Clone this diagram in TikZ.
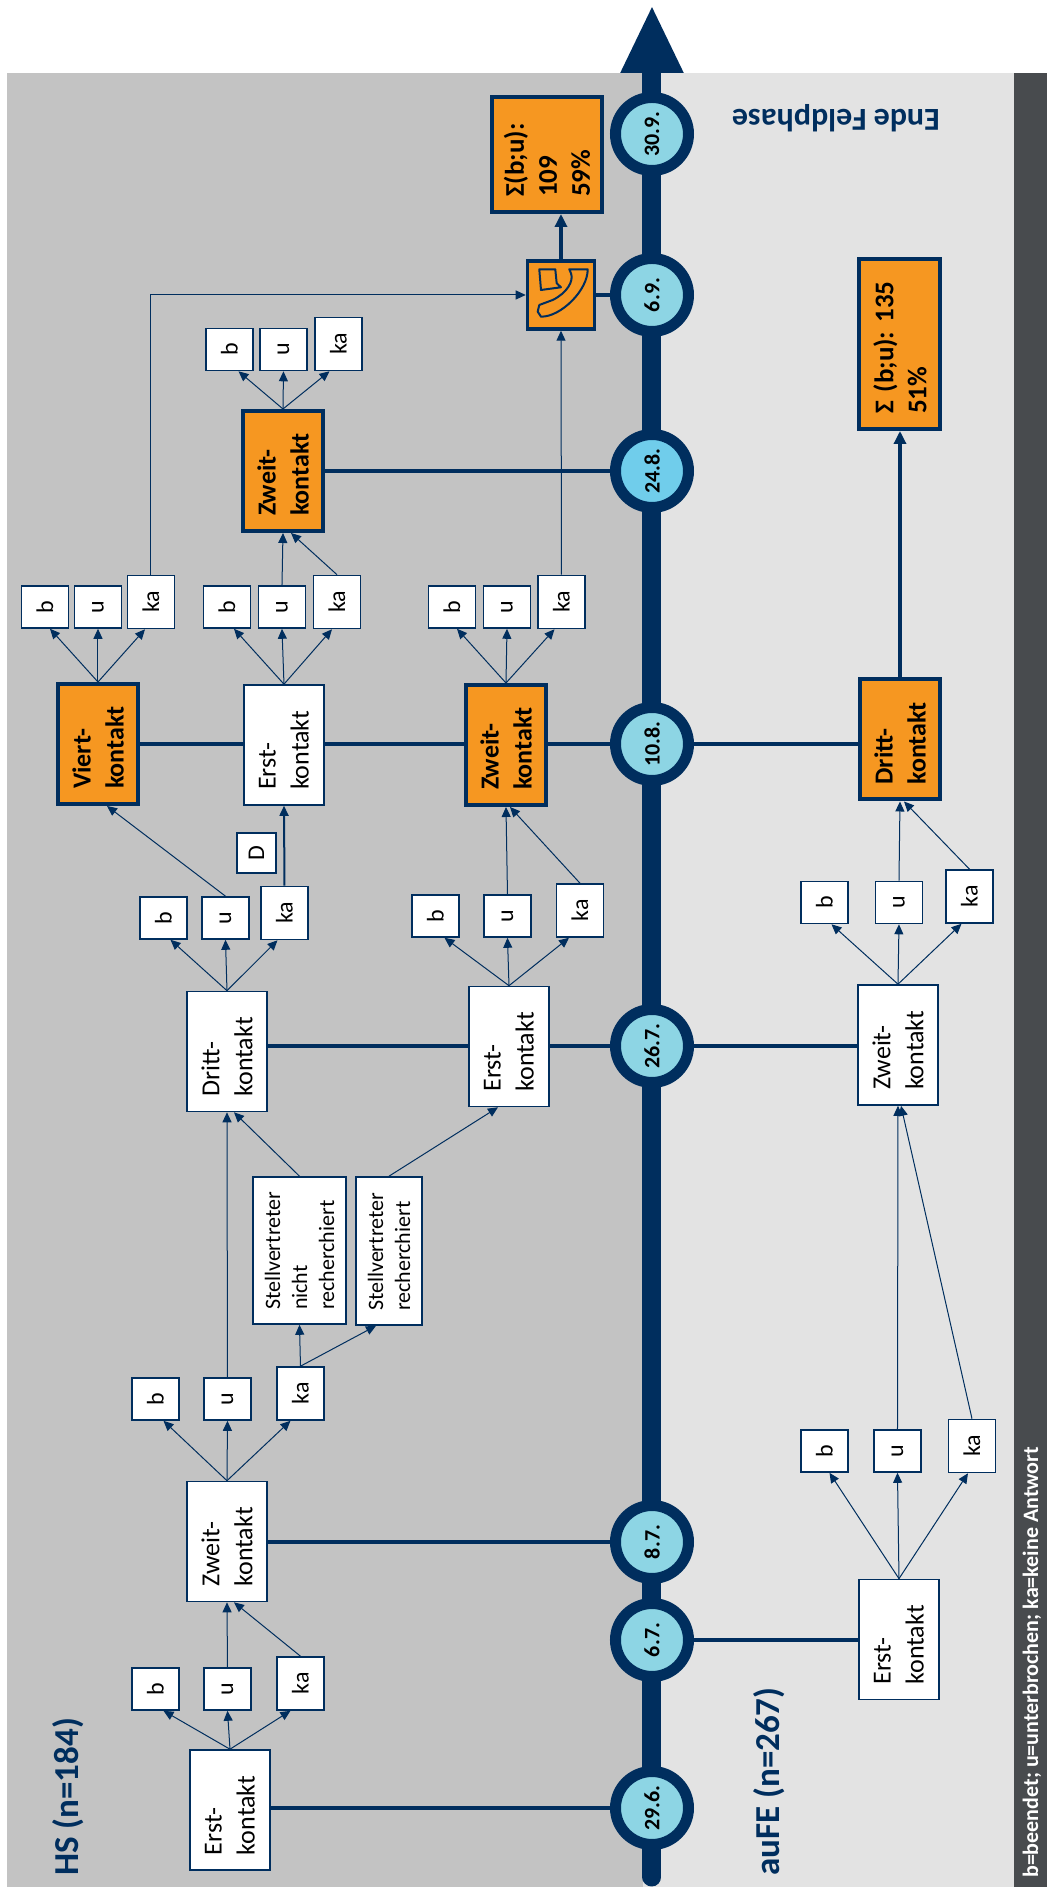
\documentclass[tikz,border=0pt]{standalone}
\usepackage{fontspec}
\setmainfont{Carlito}
\usepackage{xcolor}
\usepackage{tikz}
\usetikzlibrary{positioning,calc,arrows.meta}

\definecolor{navy}{RGB}{0,46,94}
\definecolor{boxorange}{RGB}{246,151,33}
\definecolor{hsgray}{RGB}{195,195,195}
\definecolor{aufegray}{RGB}{227,227,227}
\definecolor{legendgray}{RGB}{72,75,78}
\definecolor{datecyan}{RGB}{141,213,228}
\definecolor{datecyanB}{RGB}{112,205,235}

\begin{document}
\frenchspacing
\begin{tikzpicture}[x=1pt,y=1pt,rotate=90,transform shape,
  kbox/.style={draw=navy,line width=1.6pt,fill=white,text width=90pt,inner xsep=15pt,inner ysep=0pt,
    minimum width=120pt,minimum height=80pt,align=left,font=\fontsize{26}{33}\selectfont},
  obox/.style={kbox,fill=boxorange,line width=4pt,font=\bfseries\fontsize{26}{33}\selectfont},
  sbox/.style={draw=navy,line width=1.6pt,fill=white,inner sep=0pt,minimum width=42pt,minimum height=47pt,
    font=\fontsize{24}{28}\selectfont},
  kabox/.style={sbox,minimum width=53pt},
  stvbox/.style={draw=navy,line width=1.6pt,fill=white,inner xsep=14pt,inner ysep=0pt,align=left,
    font=\fontsize{22}{27}\selectfont},
  sumbox/.style={obox,font=\bfseries\fontsize{27}{33}\selectfont},
  datum/.style={circle,draw=navy,fill=datecyan,line width=11pt,minimum size=73pt,inner sep=0pt,
    font=\bfseries\fontsize{22}{26}\selectfont},
  link/.style={draw=navy,line width=4.5pt},
  arr/.style={draw=navy,line width=1pt,-{Triangle[length=10pt,width=9pt]}},
  arrthick/.style={draw=navy,line width=3.2pt,-{Triangle[length=13pt,width=12pt]}}]

\useasboundingbox (0,0) rectangle (1887,1047);
% backgrounds
\fill[white] (0,0) rectangle (1887,1047);
\fill[hsgray] (0,404) rectangle (1814,1040);
\fill[aufegray] (0,33) rectangle (1814,404);
\fill[legendgray] (0,0) rectangle (1814,33);

% timeline
\coordinate (tstart) at (10,395);
\coordinate (ttip) at (1882,395);
\draw[navy,line width=19pt,line cap=round,-{Triangle[length=68pt,width=58pt]}] (tstart) -- (ttip);

\node[datum] (c296) at (79,395) {29.6.};
\node[datum] (c67) at (247,395) {6.7.};
\node[datum] (c87) at (345,395) {8.7.};
\node[datum] (c267) at (841,395) {26.7.};
\node[datum] (c108) at (1143,395) {10.8.};
\node[datum,fill=datecyanB] (c248) at (1416,395) {24.8.};
\node[datum] (c69) at (1592,395) {6.9.};
\node[datum] (c309) at (1753,395) {30.9.};

% labels
\node[anchor=west,inner sep=0pt,text=navy,font=\bfseries\fontsize{35}{42}\selectfont] (hsLabel) at (11,979) {HS (n=184)};
\node[anchor=west,inner sep=0pt,text=navy,font=\bfseries\fontsize{35}{42}\selectfont] (afLabel) at (11,278) {auFE (n=267)};
\node[rotate=90,inner sep=0pt,text=navy,font=\bfseries\fontsize{32}{38}\selectfont] (ende) at (1769,211) {Ende Feldphase};
\node[anchor=west,inner sep=0pt,text=white,font=\bfseries\fontsize{22}{26}\selectfont] (legende) at (9,15) {b=beendet; u=unterbrochen; ka=keine Antwort};

% HS
\node[kbox] (hsErst1) at (77,817) {Erst-\\kontakt};
\node[sbox] (hsB1) at (198,891.5) {b};
\node[sbox] (hsU1) at (198,819.5) {u};
\node[kabox] (hsKa1) at (203.5,746.5) {ka};
\node[kbox] (hsZweit2) at (345.5,820) {Zweit-\\kontakt};
\node[sbox] (hsB2) at (488,891.5) {b};
\node[sbox] (hsU2) at (488,819.5) {u};
\node[kabox] (hsKa2) at (493.5,746.5) {ka};
\node[stvbox,text width=119pt,minimum width=147pt,minimum height=93pt] (stvNicht) at (636.5,747.5) {Stellvertreter\\nicht\\recherchiert};
\node[stvbox,text width=120pt,minimum width=148pt,minimum height=66pt] (stvRech) at (636,658) {Stellvertreter\\recherchiert};
\node[kbox] (hsDritt3) at (835.5,820) {Dritt-\\kontakt};
\node[sbox] (hsB3) at (969,883.5) {b};
\node[sbox] (hsU3) at (969,821.5) {u};
\node[kabox] (hsKa3) at (974,762.5) {ka};
\node[kbox] (hsErst3) at (840.5,538) {Erst-\\kontakt};
\node[sbox] (hsB3e) at (971,611.5) {b};
\node[sbox] (hsU3e) at (971,539.5) {u};
\node[kabox] (hsKa3e) at (976.5,467) {ka};
\node[sbox,minimum width=40pt,minimum height=39pt] (hsD) at (1034,790.5) {D};
\node[obox] (hsViert4) at (1143,949) {Viert-\\kontakt};
\node[sbox] (hsB4v) at (1280,1002) {b};
\node[sbox] (hsU4v) at (1280,949) {u};
\node[kabox] (hsKa4v) at (1285,896) {ka};
\node[kbox] (hsErst4) at (1142,763) {Erst-\\kontakt};
\node[sbox] (hsB4e) at (1280,820) {b};
\node[sbox] (hsU4e) at (1280,765) {u};
\node[kabox] (hsKa4e) at (1285,710) {ka};
\node[obox] (hsZweit4) at (1142,541) {Zweit-\\kontakt};
\node[sbox] (hsB4z) at (1280,595) {b};
\node[sbox] (hsU4z) at (1280,540) {u};
\node[kabox] (hsKa4z) at (1285,485.5) {ka};
\node[obox] (hsZweit5) at (1416,764) {Zweit-\\kontakt};
\node[sbox] (hsB5) at (1537.5,817.5) {b};
\node[sbox] (hsU5) at (1537.5,763.5) {u};
\node[kabox] (hsKa5) at (1543,708.5) {ka};
\node[draw=navy,fill=boxorange,line width=3.5pt,minimum width=68pt,minimum height=67pt,inner sep=0pt] (phone) at (1592,486) {};
\node[sumbox,text width=85pt,minimum width=115pt,minimum height=110pt] (hsSum) at (1732.5,500) {Σ(b;u):\\109\\59\%};

% auFE
\node[kbox] (afErst1) at (247.5,148) {Erst-\\kontakt};
\node[sbox] (afB1) at (436,222.5) {b};
\node[sbox] (afU1) at (436,149.5) {u};
\node[kabox] (afKa1) at (441,75) {ka};
\node[kbox] (afZweit3) at (842,149) {Zweit-\\kontakt};
\node[sbox] (afB3) at (984.5,222.5) {b};
\node[sbox] (afU3) at (984.5,148) {u};
\node[kabox] (afKa3) at (990.5,77.5) {ka};
\node[obox] (afDritt4) at (1147.5,147) {Dritt-\\kontakt};
\node[sumbox,text width=140pt,minimum width=170pt,minimum height=81pt] (afSum) at (1543,147) {Σ (b;u): 135\\51\%};

% links to the dates
\draw[link] (c296.north) -- (c296 |- hsErst1.south);
\draw[link] (c67.south) -- (c67 |- afErst1.north);
\draw[link] (c87.north) -- (c87 |- hsZweit2.south);
\draw[link] (c267.north) -- (c267 |- hsErst3.south);
\draw[link] (c267 |- hsErst3.north) -- (c267 |- hsDritt3.south);
\draw[link] (c267.south) -- (c267 |- afZweit3.north);
\draw[link] (c108.north) -- (c108 |- hsZweit4.south);
\draw[link] (c108 |- hsZweit4.north) -- (c108 |- hsErst4.south);
\draw[link] (c108 |- hsErst4.north) -- (c108 |- hsViert4.south);
\draw[link] (c108.south) -- (c108 |- afDritt4.north);
\draw[link] (c248.north) -- (c248 |- hsZweit5.south);
\draw[link] (c69.north) -- (c69 |- phone.south);

% HS arrows
\draw[arr] (hsErst1.east) -- ($(hsB1.west)+(0,-8)$);
\draw[arr] (hsErst1.east) -- (hsU1.west);
\draw[arr] (hsErst1.east) -- ($(hsKa1.west)+(0,10)$);
\draw[arr] (hsU1.east) -- (hsZweit2.west);
\draw[arr] (hsKa1.east) -- ($(hsZweit2.west)+(0,-7)$);
\draw[arr] (hsZweit2.east) -- ($(hsB2.west)+(0,-8)$);
\draw[arr] (hsZweit2.east) -- (hsU2.west);
\draw[arr] (hsZweit2.east) -- ($(hsKa2.west)+(0,10)$);
\draw[arr] (hsU2.east) -- (hsDritt3.west);
\draw[arr] (hsKa2.east) -- (stvNicht.west);
\draw[arr] (hsKa2.east) -- ($(stvRech.west)+(0,13)$);
\draw[arr] (stvNicht.east) -- ($(hsDritt3.west)+(0,-7)$);
\draw[arr] (stvRech.east) -- ($(hsErst3.west)+(0,11)$);
\draw[arr] (hsDritt3.east) -- ($(hsB3.west)+(0,-7)$);
\draw[arr] (hsDritt3.east) -- (hsU3.west);
\draw[arr] (hsDritt3.east) -- ($(hsKa3.west)+(0,7)$);
\draw[arr] (hsErst3.east) -- ($(hsB3e.west)+(0,-9)$);
\draw[arr] (hsErst3.east) -- (hsU3e.west);
\draw[arr] (hsErst3.east) -- ($(hsKa3e.west)+(0,11)$);
\draw[arr] (hsU3.east) -- ($(hsViert4.west)+(0,-9)$);
\draw[arr,line width=2pt] (hsKa3.east) -- (hsErst4.west);
\draw[arr] (hsU3e.east) -- (hsZweit4.west);
\draw[arr] (hsKa3e.east) -- ($(hsZweit4.west)+(0,-4)$);
\draw[arr] (hsViert4.east) -- ($(hsB4v.west)+(0,-5)$);
\draw[arr] (hsViert4.east) -- (hsU4v.west);
\draw[arr] (hsViert4.east) -- ($(hsKa4v.west)+(0,6)$);
\draw[arr] (hsErst4.east) -- ($(hsB4e.west)+(0,-7)$);
\draw[arr] (hsErst4.east) -- (hsU4e.west);
\draw[arr] (hsErst4.east) -- ($(hsKa4e.west)+(0,5)$);
\draw[arr] (hsZweit4.east) -- ($(hsB4z.west)+(0,-5)$);
\draw[arr] (hsZweit4.east) -- (hsU4z.west);
\draw[arr] (hsZweit4.east) -- ($(hsKa4z.west)+(0,7)$);
\draw[arr] (hsU4e.east) -- (hsZweit5.west);
\draw[arr] (hsKa4e.east) -- ($(hsZweit5.west)+(0,-8)$);
\draw[arr] (hsZweit5.east) -- ($(hsB5.west)+(0,-9)$);
\draw[arr] (hsZweit5.east) -- (hsU5.west);
\draw[arr] (hsZweit5.east) -- ($(hsKa5.west)+(0,9)$);
\draw[arr] (hsKa4v.east) -| (phone.north);
\draw[arr] (hsKa4z.east) -- (phone.west);
\draw[arrthick] (phone.east) -- (hsSum.west |- phone.east);

% auFE arrows
\draw[arr] (afErst1.east) -- ($(afB1.west)+(0,-5)$);
\draw[arr] (afErst1.east) -- (afU1.west);
\draw[arr] (afErst1.east) -- ($(afKa1.west)+(0,4)$);
\draw[arr] (afU1.east) -- (afZweit3.west);
\draw[arr] (afKa1.east) -- ($(afZweit3.west)+(0,-3)$);
\draw[arr] (afZweit3.east) -- ($(afB3.west)+(0,-7)$);
\draw[arr] (afZweit3.east) -- (afU3.west);
\draw[arr] (afZweit3.east) -- ($(afKa3.west)+(0,8)$);
\draw[arr] (afU3.east) -- (afDritt4.west);
\draw[arr] (afKa3.east) -- ($(afDritt4.west)+(0,-4)$);
\draw[arrthick] (afDritt4.east) -- (afSum.west);

% phone icon
\draw[navy,line width=2pt,line join=round,shift={(phone.center)}]
  (25.7,-8.3) -- (25.7,-26.7) .. controls (5,-27) and (-22,0) .. (-21.7,20)
  -- (-16.7,23.3) -- (-10,21.7) -- (-5,8.3) .. controls (2,-6) and (14,-13) .. (21.7,-10) -- cycle
  (25.7,21.7) -- (25.7,5.7) -- (11.7,4.3) -- (7.7,0) -- (5,20) -- cycle;
\end{tikzpicture}
\end{document}
